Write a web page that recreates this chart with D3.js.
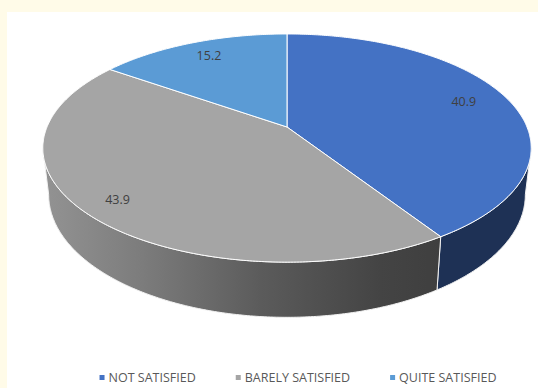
<!DOCTYPE html>
<html>
<head>
<meta charset="utf-8">
<script src="https://cdn.jsdelivr.net/npm/d3@7"></script>
<style>
  html, body { margin: 0; padding: 0; background: #FFFBE8; }
  svg { display: block; }
</style>
</head>
<body>
<svg id="chart" width="538" height="388"></svg>
<script>
// ---- data ----
const categories = ["NOT SATISFIED", "BARELY SATISFIED", "QUITE SATISFIED"];
const values = [40.9, 43.9, 15.2];
const labels = ["40.9", "43.9", "15.2"];
// ---- styles ----
const topColors = ["#4472C4", "#A5A5A5", "#5B9BD5"];
const sideColors = ["#1E3155", "url(#graySide)", "#2F5F8F"];

const W = 538, H = 388;
const svg = d3.select("#chart");

// background panel
svg.append("rect").attr("x", 0).attr("y", 0).attr("width", W).attr("height", H).attr("fill", "#FFFBE8");
svg.append("rect").attr("x", 7).attr("y", 12).attr("width", W - 7).attr("height", H - 12).attr("fill", "#FFFFFF");

const defs = svg.append("defs");
const g1 = defs.append("linearGradient").attr("id", "graySide")
  .attr("gradientUnits", "userSpaceOnUse").attr("x1", 43).attr("x2", 440).attr("y1", 0).attr("y2", 0);
[[0, "#939393"], [0.25, "#7c7c7c"], [0.55, "#5b5b5b"], [0.85, "#444444"], [1, "#3f3f3f"]]
  .forEach(([o, c]) => g1.append("stop").attr("offset", o).attr("stop-color", c));

// perspective projection of a tilted disc
const cx = 287, cy = 127, A = 240, B = 110.2, K = 0.1845, DEPTH = 45, SHRINK = 0.976;
function proj(theta, r, down) {
  const s = Math.sin(theta), c = Math.cos(theta);
  const den = 1 + K * r * c;
  const dx = A * r * s / den * (down ? SHRINK : 1);
  return [cx + dx, cy - B * r * c / den + (down ? DEPTH / den : 0)];
}

const pie = d3.pie().sort(null).value(d => d).startAngle(0).endAngle(2 * Math.PI);
const arcs = pie(values);

const line = d3.line();
function arcPts(a0, a1, down) {
  const n = Math.max(2, Math.ceil((a1 - a0) / 0.01));
  return d3.range(n + 1).map(i => proj(a0 + (a1 - a0) * i / n, 1, down));
}

// visible front side range: cos(theta) < -K
const vis0 = Math.PI - Math.acos(K), vis1 = Math.PI + Math.acos(K);
const sides = svg.append("g");
arcs.forEach((a, i) => {
  const s0 = Math.max(a.startAngle, vis0), s1 = Math.min(a.endAngle, vis1);
  if (s1 <= s0) return;
  const pts = arcPts(s0, s1, false).concat(arcPts(s0, s1, true).reverse());
  sides.append("path").attr("d", line(pts) + "Z")
    .attr("fill", sideColors[i]).attr("stroke", "#F2F2F2").attr("stroke-width", 1).attr("stroke-linejoin", "round");
});

const tops = svg.append("g");
arcs.forEach((a, i) => {
  const pts = [proj(0, 0, false)].concat(arcPts(a.startAngle, a.endAngle, false));
  tops.append("path").attr("d", line(pts) + "Z")
    .attr("fill", topColors[i]).attr("stroke", "#FFFFFF").attr("stroke-width", 1).attr("stroke-linejoin", "round");
});

// data labels
const lab = svg.append("g");
arcs.forEach((a, i) => {
  const mid = (a.startAngle + a.endAngle) / 2;
  const r = 0.8 + 0.1 * Math.max(0, -Math.cos(mid));
  const p = proj(mid, r, false);
  lab.append("text").attr("x", p[0]).attr("y", p[1] - 2).attr("dy", "0.35em")
    .attr("text-anchor", "middle").attr("font-family", "'Open Sans', sans-serif")
    .attr("font-size", 12.5).attr("fill", "#404040").text(labels[i]);
});

// legend
const GAP = 40;
const leg = svg.append("g").attr("font-family", "'Open Sans', sans-serif").attr("font-size", 12.5).attr("fill", "#595959");
let x = 0;
const items = [];
categories.forEach((c, i) => {
  const gi = leg.append("g");
  gi.append("rect").attr("x", 0).attr("y", -3).attr("width", 5).attr("height", 5).attr("fill", topColors[i]);
  const t = gi.append("text").attr("x", 9).attr("y", 0).attr("dy", "0.35em").text(c);
  const w = 9 + t.node().getComputedTextLength();
  items.push({ gi, x });
  x += w + GAP;
});
const total = x - GAP;
const x0 = 298 - total / 2;
items.forEach(it => it.gi.attr("transform", `translate(${x0 + it.x},378)`));
</script>
</body>
</html>
